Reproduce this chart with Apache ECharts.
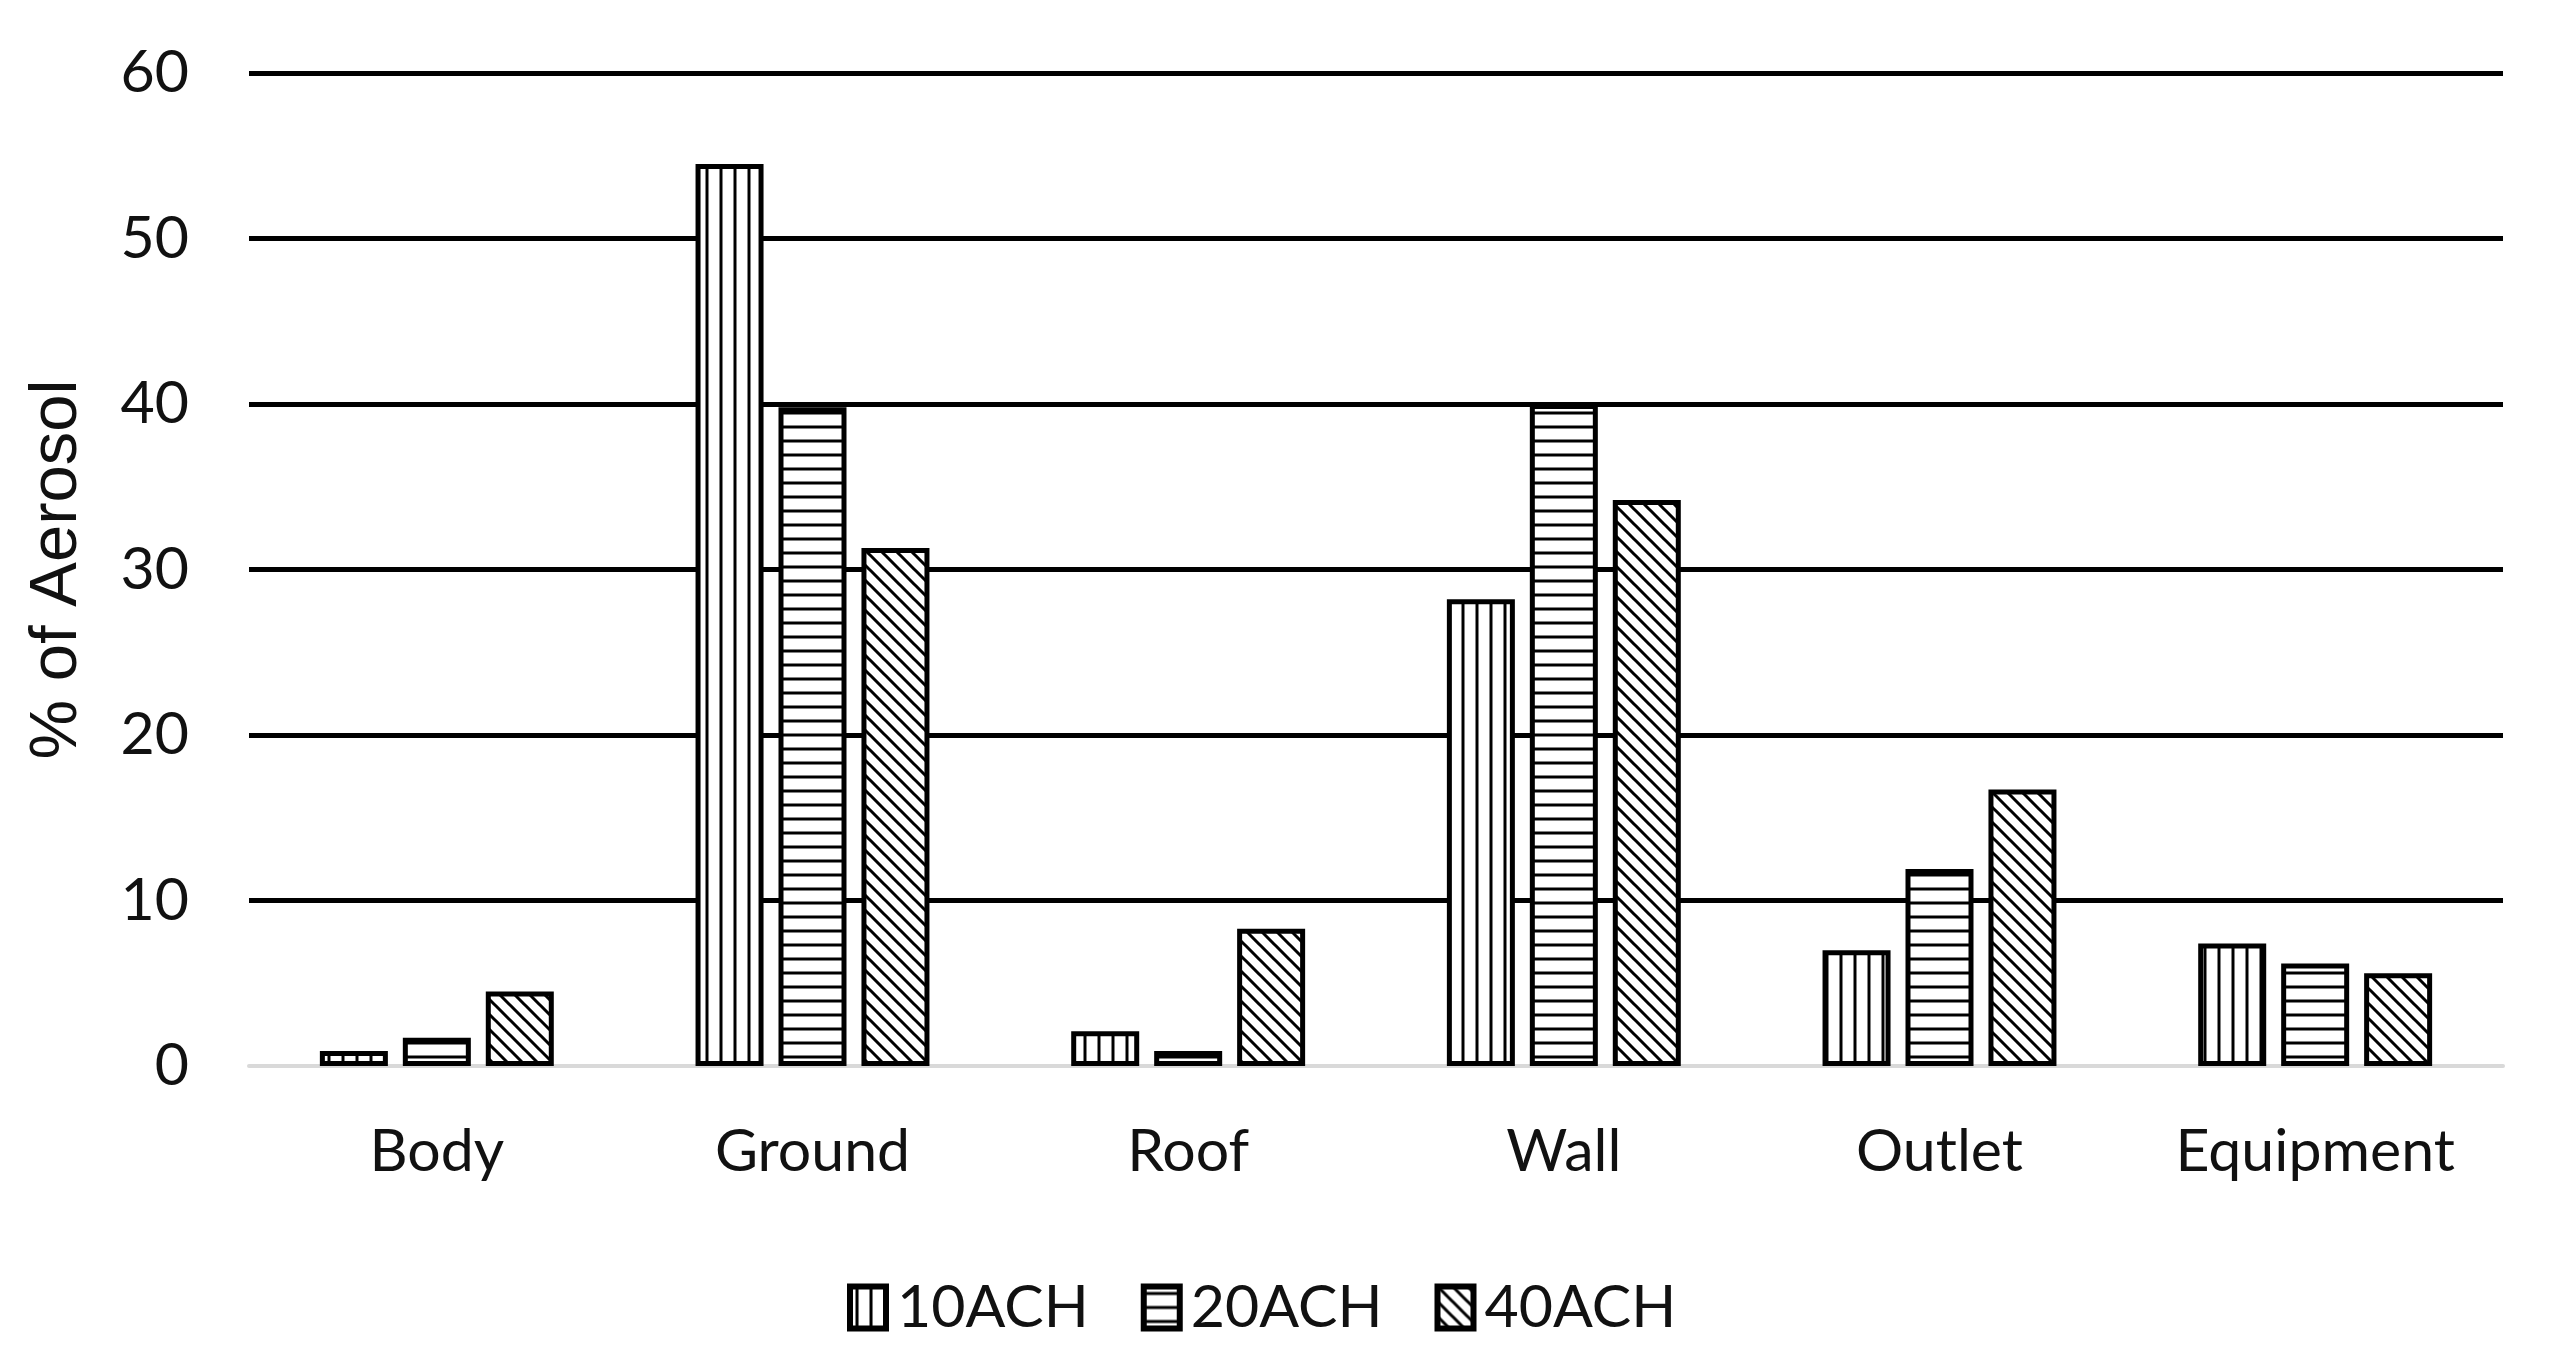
<!DOCTYPE html>
<html>
<head>
<meta charset="utf-8">
<script src="https://cdn.jsdelivr.net/npm/echarts@6/dist/echarts.min.js"></script>
<style>
html,body{margin:0;padding:0;background:#fff;}
#chart{width:2552px;height:1350px;}
</style>
</head>
<body>
<div id="chart"></div>
<script>
const categories = ['Body', 'Ground', 'Roof', 'Wall', 'Outlet', 'Equipment'];
const seriesNames = ['10ACH', '20ACH', '40ACH'];
const ach10 = [0.9, 54.5, 2.1, 28.2, 7.0, 7.4];
const ach20 = [1.7, 39.8, 0.9, 40.0, 11.9, 6.2];
const ach40 = [4.5, 31.3, 8.3, 34.2, 16.7, 5.6];
const yMin = 0, yMax = 60, yStep = 10;
const yTitle = '% of Aerosol';

function makePattern(kind) {
  const s = kind === 'diag' ? 15 : 14;
  const c = document.createElement('canvas');
  c.width = s; c.height = s;
  const g = c.getContext('2d');
  g.fillStyle = '#fff';
  g.fillRect(0, 0, s, s);
  g.strokeStyle = '#000';
  g.lineWidth = 3;
  g.beginPath();
  if (kind === 'v') {
    g.moveTo(s / 2, 0); g.lineTo(s / 2, s);
  } else if (kind === 'h') {
    g.moveTo(0, s / 2); g.lineTo(s, s / 2);
  } else {
    for (let k = -1; k <= 1; k++) {
      g.moveTo(-2, -2 + k * s); g.lineTo(s + 2, s + 2 + k * s);
    }
  }
  g.stroke();
  return { image: c, repeat: 'repeat' };
}
const patterns = [makePattern('v'), makePattern('h'), makePattern('diag')];
const values = [ach10, ach20, ach40];

const chart = echarts.init(document.getElementById('chart'));
const font = 'Lato, "Liberation Sans", sans-serif';
chart.setOption({
  animation: false,
  backgroundColor: '#fff',
  grid: { left: 249, right: 49, top: 73, bottom: 284, containLabel: false },
  legend: {
    left: 842, top: 1273,
    icon: 'rect',
    itemWidth: 36, itemHeight: 42, itemGap: 52,
    textStyle: { fontFamily: font, fontSize: 59, color: '#111', padding: [0, 0, 0, 6] },
    itemStyle: { borderColor: '#000', borderWidth: 6 },
    data: seriesNames
  },
  xAxis: {
    type: 'category',
    data: categories,
    axisLine: { show: true, lineStyle: { color: '#d9d9d9', width: 4 } },
    axisTick: { show: false },
    axisLabel: { fontFamily: font, fontSize: 59, color: '#111', margin: 56 },
    splitLine: { show: false }
  },
  yAxis: {
    type: 'value',
    min: yMin, max: yMax, interval: yStep,
    name: yTitle,
    nameLocation: 'middle',
    nameGap: 158,
    nameTextStyle: { fontFamily: '"Liberation Sans", Arial, sans-serif', fontSize: 67, color: '#111' },
    axisLine: { show: false },
    axisTick: { show: false },
    axisLabel: { fontFamily: font, fontSize: 59, color: '#111', margin: 60 },
    splitLine: { show: true, lineStyle: { color: ['rgba(0,0,0,0)', '#000', '#000', '#000', '#000', '#000', '#000'], width: 5 } }
  },
  series: seriesNames.map((n, i) => ({
    name: n,
    type: 'bar',
    data: values[i],
    barWidth: 68,
    barGap: '22%',
    itemStyle: { color: patterns[i], borderColor: '#000', borderWidth: 5 },
    emphasis: { disabled: true }
  }))
});
</script>
</body>
</html>
